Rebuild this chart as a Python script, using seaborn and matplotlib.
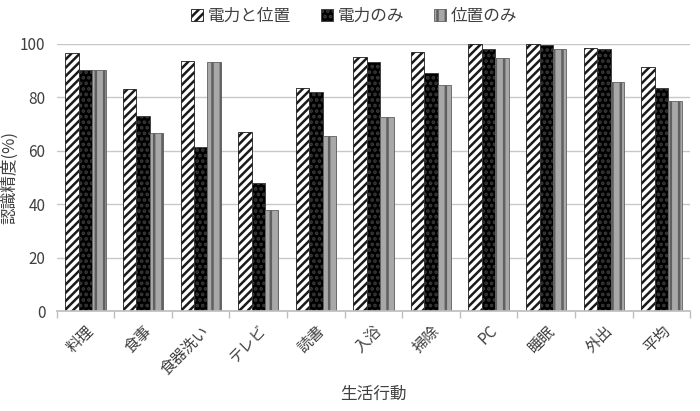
import numpy as np
import pandas as pd
import seaborn as sns
import matplotlib.pyplot as plt

# categories and series values
activities = ['料理', '食事', '食器洗い', 'テレビ', '読書', '入浴', '掃除', 'PC', '睡眠', '外出', '平均']
series_names = ['電力と位置', '電力のみ', '位置のみ']
power_and_pos = [96.6, 83.1, 93.7, 66.9, 83.4, 95.2, 97.0, 100.0, 100.0, 98.5, 91.5]
power_only = [90.1, 73.2, 61.4, 47.9, 82.1, 93.1, 89.1, 98.1, 99.7, 98.1, 83.5]
pos_only = [90.1, 66.5, 93.1, 37.7, 65.4, 72.7, 84.6, 94.7, 98.1, 85.7, 78.7]
y_ticks = [0, 20, 40, 60, 80, 100]

sns.set_theme(style='white')
plt.rcParams['font.family'] = ['Noto Sans CJK JP', 'DejaVu Sans']
plt.rcParams['hatch.linewidth'] = 1.8

df = pd.DataFrame({
    'activity': activities * 3,
    'series': np.repeat(series_names, len(activities)),
    'value': power_and_pos + power_only + pos_only,
})

fig = plt.figure(figsize=(7, 4.11), dpi=100)
ax = fig.add_axes([0.081, 0.243, 0.905, 0.65])

sns.barplot(data=df, x='activity', y='value', hue='series', order=activities,
            hue_order=series_names, palette=['white', 'black', '#a8a8a8'],
            width=0.7, legend=False, ax=ax)

# patterns like the original: diagonal hatch / dotted black / vertical stripes
styles = [('////', '#1a1a1a'), ('...', '#3a3a3a'), ('||', '#606060')]
for cont, (h, ec) in zip(ax.containers, styles):
    for bar in cont:
        bar.set_hatch(h)
        bar.set_edgecolor(ec)
        bar.set_linewidth(0.6)

ax.set_ylim(0, 100)
ax.set_xlim(-0.5, len(activities) - 0.5)
ax.set_yticks(y_ticks)
ax.yaxis.grid(True, color='#c8c8c8', linewidth=1)
ax.set_axisbelow(True)
for s in ['left', 'right', 'top']:
    ax.spines[s].set_visible(False)
ax.spines['bottom'].set_color('#bfbfbf')

ax.set_xticks(np.arange(len(activities)))
ax.set_xticklabels(activities, rotation=45, ha='right', rotation_mode='anchor')
ax.set_xticks(np.arange(-0.5, len(activities)), minor=True)
ax.tick_params(axis='x', which='major', length=0, labelsize=11, labelcolor='#404040', pad=8)
ax.tick_params(axis='x', which='minor', length=5, color='#bfbfbf', bottom=True)
ax.tick_params(axis='y', length=0, labelsize=11, labelcolor='#404040', pad=8)

ax.set_xlabel('生活行動', fontsize=12, color='#404040', labelpad=6)
ax.set_ylabel('認識精度(%)', fontsize=12, color='#404040', labelpad=1)

ax.legend(ax.containers, series_names, loc='lower center', bbox_to_anchor=(0.47, 1.015),
          ncol=3, frameon=False, fontsize=12, handlelength=0.7, handleheight=0.7,
          columnspacing=1.8, handletextpad=0.3, labelcolor='#404040')

fig.savefig('out.png', dpi=100)
